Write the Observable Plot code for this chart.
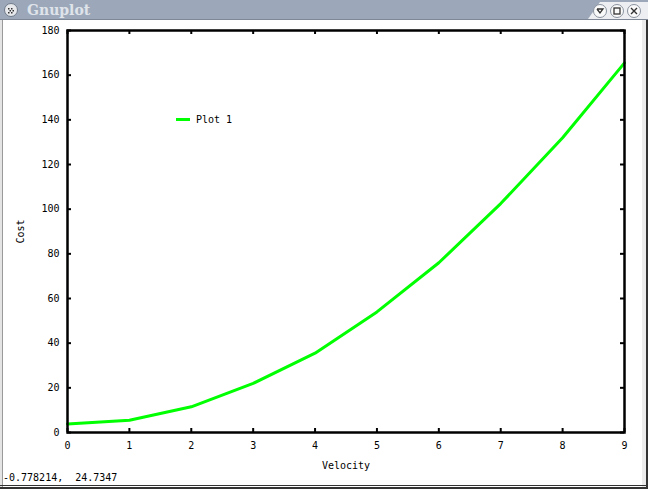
<!DOCTYPE html>
<html><head><meta charset="utf-8">
<script src="https://cdn.jsdelivr.net/npm/d3@7"></script>
<script src="https://cdn.jsdelivr.net/npm/@observablehq/plot@0.6"></script>
<style>
body{margin:0;background:#fff;}
#win{position:relative;width:648px;height:489px;overflow:hidden;background:#fff;font-family:"DejaVu Sans Mono",monospace;}
#bar{position:absolute;left:0;top:0;}
#plot{position:absolute;left:0;top:20px;}
#legend{position:absolute;left:176px;top:114px;font-size:10px;color:#000;display:flex;align-items:center;}
#legend .sw{display:inline-block;width:14px;height:3px;background:#00ff00;margin-right:6px;}
#status{position:absolute;left:3px;top:472px;font-size:10px;color:#000;white-space:pre;}
.edge{position:absolute;}
</style></head>
<body>
<div id="win">
  <svg id="bar" width="648" height="21">
    <rect x="0" y="0" width="648" height="19" fill="#9ca8b9"></rect>
    <polygon points="588,19 600,2 648,2 648,19" fill="#eceef1"></polygon>
    <line x1="0" y1="19.5" x2="648" y2="19.5" stroke="#7d8796"></line>
    <circle cx="11" cy="10" r="6.5" fill="#e6e8ec" stroke="#6f7a8a"></circle>
    <g fill="#333"><rect x="8" y="8" width="1.5" height="1.5"></rect><rect x="11" y="8" width="1.5" height="1.5"></rect><rect x="9.5" y="10" width="1.5" height="1.5"></rect><rect x="12.5" y="10" width="1.5" height="1.5"></rect><rect x="8" y="12" width="1.5" height="1.5"></rect><rect x="11" y="12" width="1.5" height="1.5"></rect></g>
    <text x="27" y="15" font-family="DejaVu Serif" font-weight="bold" font-size="14" fill="#dfe3ea">Gnuplot</text>
    <circle cx="600" cy="11" r="6.5" fill="#fafafa" stroke="#8a929e"></circle>
    <polyline points="597,9 600,13 603,9 597,9" fill="none" stroke="#333" stroke-width="1.3"></polyline>
    <circle cx="617" cy="11" r="6.5" fill="#fafafa" stroke="#8a929e"></circle>
    <rect x="614" y="8" width="6" height="6" fill="none" stroke="#333" stroke-width="1.3"></rect>
    <circle cx="634" cy="11" r="6.5" fill="#fafafa" stroke="#8a929e"></circle>
    <path d="M631,8 L637,14 M637,8 L631,14" stroke="#333" stroke-width="1.4"></path>
  </svg>
  <div id="plot"></div>
  <div id="legend"><span class="sw"></span><span>Plot 1</span></div>
  <div id="status">-0.778214,  24.7347</div>
  <div class="edge" style="left:0;top:20px;width:3px;height:469px;background:#e4e4e4;"></div>
  <div class="edge" style="left:2px;top:20px;width:1px;height:469px;background:#9a9a9a;"></div>
  <div class="edge" style="left:642px;top:20px;width:4px;height:469px;background:#ececec;"></div>
  <div class="edge" style="left:646px;top:20px;width:2px;height:469px;background:#333;"></div>
  <div class="edge" style="left:0;top:485px;width:648px;height:1px;background:#333;"></div>
  <div class="edge" style="left:0;top:487px;width:648px;height:2px;background:#333;"></div>
</div>
<script>
const velocity = [0, 1, 2, 3, 4, 5, 6, 7, 8, 9];
const cost = [3.8, 5.5, 11.5, 22, 35.5, 54, 76, 102.5, 132, 165.5];
const xTicks = [0, 1, 2, 3, 4, 5, 6, 7, 8, 9];
const yTicks = [0, 20, 40, 60, 80, 100, 120, 140, 160, 180];

const data = velocity.map((v, i) => ({velocity: v, cost: cost[i]}));

const W = 648, H = 469;
const mL = 67, mR = 24, mT = 10, mB = 57;
const pw = W - mL - mR, ph = H - mT - mB;
const tl = 4;

const chart = Plot.plot({
  width: W, height: H,
  marginLeft: mL, marginRight: mR, marginTop: mT, marginBottom: mB,
  style: {fontFamily: "DejaVu Sans Mono, monospace", fontSize: "10px", color: "#000", background: "transparent"},
  x: {domain: [0, 9]},
  y: {domain: [0, 180]},
  marks: [
    Plot.axisX(xTicks, {anchor: "bottom", tickSize: 0, tickPadding: 9, label: "Velocity", labelAnchor: "center", labelOffset: 36, labelArrow: "none", fontSize: 10}),
    Plot.axisY(yTicks, {anchor: "left", tickSize: 0, tickPadding: 8, label: "Cost", labelAnchor: "center", labelOffset: 51, labelArrow: "none", fontSize: 10}),
    Plot.tickX(xTicks, {x: d => d, insetTop: ph - tl, stroke: "#000", strokeWidth: 2}),
    Plot.tickX(xTicks, {x: d => d, insetBottom: ph - tl, stroke: "#000", strokeWidth: 2}),
    Plot.tickY(yTicks, {y: d => d, insetRight: pw - tl, stroke: "#000", strokeWidth: 2}),
    Plot.tickY(yTicks, {y: d => d, insetLeft: pw - tl, stroke: "#000", strokeWidth: 2}),
    Plot.line(data, {x: "velocity", y: "cost", stroke: "#00ff00", strokeWidth: 3, curve: "linear"}),
    Plot.frame({stroke: "#000", strokeWidth: 2.5})
  ]
});
document.getElementById("plot").appendChild(chart);
</script>
</body></html>
